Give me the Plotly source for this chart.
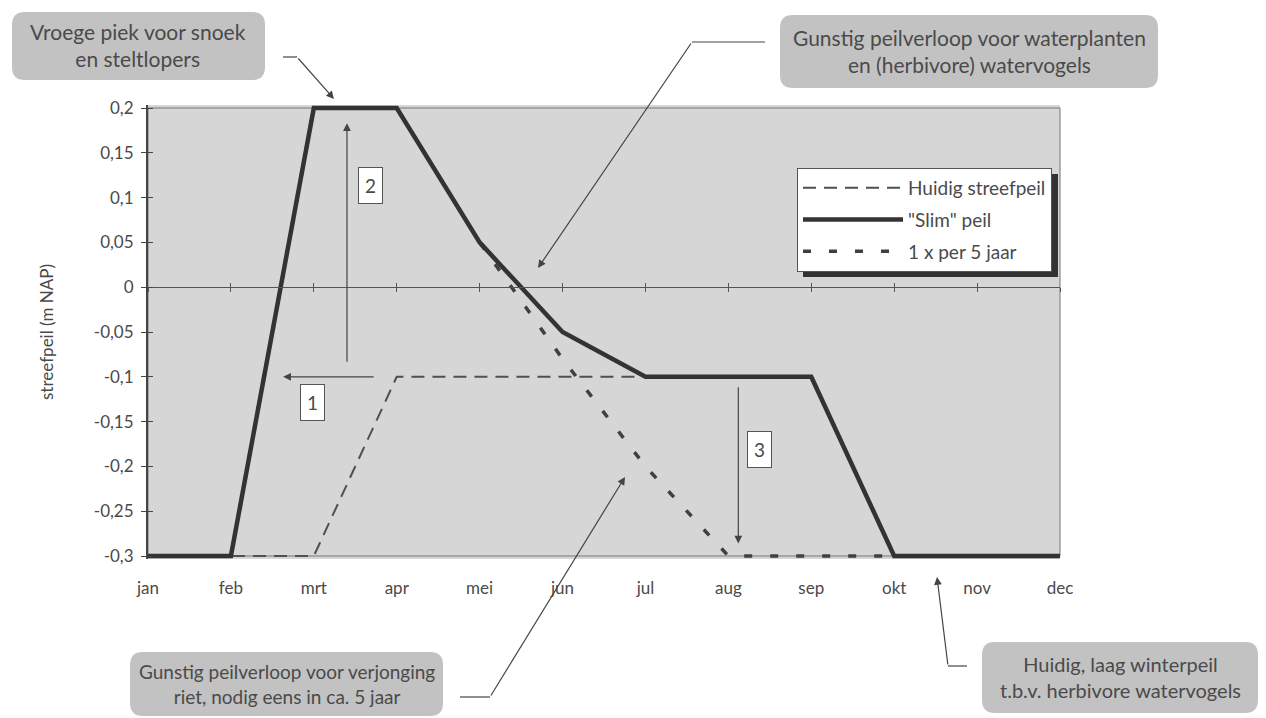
import plotly.graph_objects as go

# ---------------- data ----------------
months = ["jan", "feb", "mrt", "apr", "mei", "jun", "jul", "aug", "sep", "okt", "nov", "dec"]
huidig_streefpeil = [-0.3, -0.3, -0.3, -0.1, -0.1, -0.1, -0.1, -0.1, -0.1, -0.3, -0.3, -0.3]
slim_peil = [-0.3, -0.3, 0.2, 0.2, 0.05, -0.05, -0.1, -0.1, -0.1, -0.3, -0.3, -0.3]
eens_per_5_jaar = [-0.3, -0.3, 0.2, 0.2, 0.05, -0.08, -0.2, -0.3, -0.3, -0.3, -0.3, -0.3]
y_tick_values = [0.2, 0.15, 0.1, 0.05, 0, -0.05, -0.1, -0.15, -0.2, -0.25, -0.3]
y_tick_labels = ["0,2", "0,15", "0,1", "0,05", "0", "-0,05", "-0,1", "-0,15", "-0,2", "-0,25", "-0,3"]

# ---------------- layout geometry ----------------
W, H = 1266, 718
L, R, T, B = 148, 1060, 105, 559
unit = 896.0  # px per metre
ymax = 0.2 + (108 - T) / unit
ymin = -0.3 - (B - 556) / unit
FONT = "Lato"
TXT = "#4a4a4a"
AX = "#444444"


def px(x):
    return (x - L) / (R - L)


def py(y):
    return (B - y) / (B - T)


def rrect(x0, y0, x1, y1, r=13):
    rx, ry = r / (R - L), r / (B - T)
    a, b, c, d = px(x0), py(y1), px(x1), py(y0)  # left, bottom, right, top
    return (f"M{a+rx},{b} L{c-rx},{b} Q{c},{b} {c},{b+ry} L{c},{d-ry} Q{c},{d} {c-rx},{d} "
            f"L{a+rx},{d} Q{a},{d} {a},{d-ry} L{a},{b+ry} Q{a},{b} {a+rx},{b} Z")


fig = go.Figure()

fig.add_trace(go.Scatter(x=months, y=eens_per_5_jaar, mode="lines", name="1 x per 5 jaar",
                         line=dict(color="#404040", width=3.5, dash="8px,18px"),
                         legendrank=3, legendgroup="c"))
fig.add_trace(go.Scatter(x=months, y=huidig_streefpeil, mode="lines", name="Huidig streefpeil",
                         line=dict(color="#505050", width=2, dash="13px,8px"),
                         legendrank=1, legendgroup="a"))
fig.add_trace(go.Scatter(x=months, y=slim_peil, mode="lines", name='"Slim" peil',
                         line=dict(color="#333333", width=4.5),
                         legendrank=2, legendgroup="b"))
# invisible helpers so the crossing axes are drawn
fig.add_trace(go.Scatter(x=months, y=slim_peil, xaxis="x2", yaxis="y", opacity=0,
                         showlegend=False, hoverinfo="skip", mode="lines"))
fig.add_trace(go.Scatter(x=months, y=slim_peil, xaxis="x3", yaxis="y2", opacity=0,
                         showlegend=False, hoverinfo="skip", mode="lines"))

zero_pos = (0 - ymin) / (ymax - ymin)

common_x = dict(type="category", range=[0, 11], showgrid=False, zeroline=False)
fig.update_layout(
    width=W, height=H, autosize=False,
    margin=dict(l=L, r=W - R, t=T, b=H - B),
    paper_bgcolor="white", plot_bgcolor="#d6d6d6",
    font=dict(family=FONT, color=TXT, size=16),
    xaxis=dict(**common_x, showline=False, ticks="", tickfont=dict(size=17, color=TXT),
               ticklabelstandoff=17),
    xaxis2=dict(**common_x, overlaying="x", anchor="free", position=zero_pos, side="bottom",
                showline=True, linecolor="#555", linewidth=1, ticks="outside", ticklen=4,
                tickcolor="#555", showticklabels=False),
    xaxis3=dict(**common_x, overlaying="x", anchor="free", position=zero_pos, side="bottom",
                showline=False, ticks="inside", ticklen=4, tickcolor="#555", showticklabels=False),
    yaxis=dict(range=[ymin, ymax], tickvals=y_tick_values, ticktext=y_tick_labels,
               showgrid=False, zeroline=False, showline=True, linecolor=AX, linewidth=2,
               ticks="outside", ticklen=5, tickcolor=AX, tickfont=dict(size=17, color=TXT),
               ticklabelstandoff=4,
               title=dict(text="streefpeil (m NAP)", font=dict(size=17, color=TXT), standoff=36)),
    yaxis2=dict(range=[ymin, ymax], overlaying="y", tickvals=y_tick_values, showticklabels=False,
                showgrid=False, zeroline=False, showline=False, ticks="inside", ticklen=5,
                tickcolor=AX),
    showlegend=True,
    legend=dict(x=px(797), y=py(168), xanchor="left", yanchor="top",
                bgcolor="white", bordercolor="#555", borderwidth=1,
                font=dict(size=19, color=TXT), traceorder="grouped", tracegroupgap=4,
                itemwidth=100),
)

shapes = []
# plot frame (top/right thin border)
shapes.append(dict(type="rect", xref="paper", yref="y", x0=0, x1=1, y0=-0.3, y1=0.2,
                   line=dict(color="#777", width=1), layer="below"))
# legend shadow
shapes.append(dict(type="rect", xref="paper", yref="paper", x0=px(803), x1=px(1058),
                   y0=py(277), y1=py(174), fillcolor="#333", line=dict(width=0), layer="above"))

# callout boxes
boxes = [
    ((12, 12, 265, 80), (138, 45), "Vroege piek voor snoek<br>en steltlopers", 21),
    ((780, 15, 1158, 88), (969, 51), "Gunstig peilverloop voor waterplanten<br>en (herbivore) watervogels", 21),
    ((130, 652, 443, 716), (287, 684), "Gunstig peilverloop voor verjonging<br>riet, nodig eens in ca. 5 jaar", 19),
    ((982, 642, 1258, 713), (1120, 677), "Huidig, laag winterpeil<br>t.b.v. herbivore watervogels", 20),
]
annotations = []
for (x0, y0, x1, y1), (cx, cy), text, fs in boxes:
    shapes.append(dict(type="path", xref="paper", yref="paper", path=rrect(x0, y0, x1, y1),
                       fillcolor="#c2c2c2", line=dict(width=0), layer="above"))
    annotations.append(dict(xref="paper", yref="paper", x=px(cx), y=py(cy), text=text,
                            showarrow=False, font=dict(size=fs, color=TXT, family=FONT),
                            xanchor="center", yanchor="middle", align="center"))

# leader lines: (horizontal start, bend, arrow head)
leaders = [
    ((283, 57), (297, 57), (334, 99)),
    ((765, 42), (692, 42), (538, 268)),
    ((460, 697), (490, 697), (625, 477)),
    ((967, 666), (948, 666), (937, 577)),
]
for (sx, sy), (bx, by), (hx, hy) in leaders:
    shapes.append(dict(type="line", xref="paper", yref="paper", x0=px(sx), y0=py(sy),
                       x1=px(bx), y1=py(by), line=dict(color=AX, width=1.2)))
    annotations.append(dict(xref="paper", yref="paper", x=px(hx), y=py(hy), text="",
                            showarrow=True, axref="pixel", ayref="pixel",
                            ax=bx - hx, ay=by - hy, arrowhead=2, arrowsize=1.3,
                            arrowwidth=1.2, arrowcolor=AX, standoff=0))

# numbered arrows (data coordinates)
num_arrows = [
    ((2.74, -0.1), (1.63, -0.1)),
    ((2.40, -0.085), (2.40, 0.183)),
    ((7.12, -0.11), (7.12, -0.286)),
]
for (tx, ty), (hx, hy) in num_arrows:
    annotations.append(dict(xref="x", yref="y", x=hx, y=hy, axref="x", ayref="y", ax=tx, ay=ty,
                            text="", showarrow=True, arrowhead=2, arrowsize=1.3,
                            arrowwidth=1.2, arrowcolor=AX, standoff=0))

num_labels = [(1.98, -0.129, "1"), (2.68, 0.113, "2"), (7.38, -0.181, "3")]
for x, y, t in num_labels:
    annotations.append(dict(xref="x", yref="y", x=x, y=y, text=t, showarrow=False,
                            font=dict(size=19, color=TXT, family=FONT), bgcolor="white",
                            bordercolor="#555", borderwidth=1, borderpad=6))

fig.update_layout(shapes=shapes, annotations=annotations)

fig.write_html("out.html", include_plotlyjs=True, full_html=True,
               config={"displayModeBar": False},
               post_script="document.body.style.margin='0';")
